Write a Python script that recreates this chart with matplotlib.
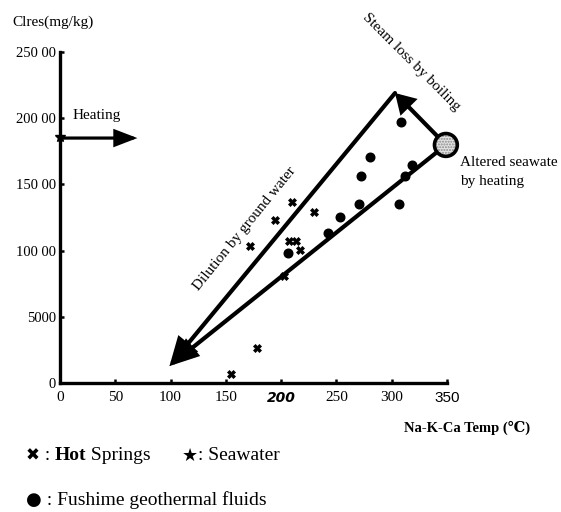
import matplotlib
matplotlib.use('Agg')
import matplotlib.pyplot as plt

# ---------------- data ----------------
fushime_temp = [308.7, 280.7, 318.6, 272.6, 312.3, 306.9, 270.8, 253.6, 242.8, 205.8]
fushime_cl = [19710, 17070, 16470, 15630, 15630, 13520, 13520, 12540, 11330, 9820]

hot_temp = [209.4, 230.1, 194.0, 171.5, 206.7, 213.0, 217.5, 203.0, 155.0, 178.0]
hot_cl = [13670, 12920, 12310, 10350, 10730, 10730, 10050, 8080, 680, 2640]

seawater_temp = [0]
seawater_cl = [18600]

altered_temp = [349]
altered_cl = [17980]

boiling_tip = (303, 21900)
dilution_tip = (99, 1280)
heating_end = (70, 18500)

xticks = [0, 50, 100, 150, 200, 250, 300, 350]
xtick_labels = ['0', '50', '100', '150', '200', '250', '300', '350']
yticks = [0, 5000, 10000, 15000, 20000, 25000]
ytick_labels = ['0', '5000', '100 00', '150 00', '200 00', '250 00']

W, H = 561, 512
SERIF = ['Liberation Serif', 'DejaVu Serif']
plt.rcParams['font.family'] = SERIF


def px(x, y):
    return x / W, 1 - y / H


fig = plt.figure(figsize=(W / 100, H / 100), dpi=100)
ax = fig.add_axes([60 / W, (H - 383) / H, 387 / W, 331 / H])
ax.set_xlim(0, 350)
ax.set_ylim(0, 25000)
for s in ['top', 'right']:
    ax.spines[s].set_visible(False)
for s in ['left', 'bottom']:
    ax.spines[s].set_linewidth(2.4)

ax.set_xticks(xticks)
ax.set_xticklabels(xtick_labels, fontsize=11)
ax.set_yticks(yticks)
ax.set_yticklabels(ytick_labels, fontsize=10.5)
ax.tick_params(axis='both', direction='in', length=3, width=1.8)
ax.tick_params(axis='x', pad=6)
ax.tick_params(axis='y', pad=3)
for lab in ax.get_xticklabels():
    if lab.get_text() == '200':
        lab.set_family(['DejaVu Sans'])
        lab.set_fontweight('bold')
        lab.set_fontstyle('italic')
        lab.set_fontsize(10)
    if lab.get_text() == '350':
        lab.set_family(['Liberation Sans'])
        lab.set_fontsize(11)

# ---------------- arrows ----------------
def arrow(start, end, lw, ms, hl, hw, shrinkA=0, z=2):
    style = '-|>,head_length=%g,head_width=%g' % (hl, hw)
    ax.annotate('', xy=end, xytext=start,
                arrowprops=dict(arrowstyle=style, lw=lw, color='black',
                                shrinkA=shrinkA, shrinkB=0, mutation_scale=ms,
                                joinstyle='miter'),
                annotation_clip=False, zorder=z)

alt = (altered_temp[0], altered_cl[0])
# steam loss by boiling
arrow(alt, boiling_tip, 3.0, 20, 0.5, 0.3, shrinkA=8)
# dilution lines
arrow(boiling_tip, dilution_tip, 3.0, 20, 0.8, 0.35)
arrow(alt, dilution_tip, 3.0, 20, 0.8, 0.3, shrinkA=8)
# heating
arrow((seawater_temp[0], heating_end[1]), heating_end, 2.3, 20, 0.65, 0.25)

# ---------------- markers ----------------
ax.plot(fushime_temp, fushime_cl, 'o', color='black', ms=6.2, zorder=4, clip_on=False)
ax.plot(hot_temp, hot_cl, 'X', color='black', ms=5.5, mew=0.5, zorder=4, clip_on=False)
ax.plot(seawater_temp, seawater_cl, '*', color='black', ms=7, zorder=4, clip_on=False)
ax.scatter(altered_temp, altered_cl, s=270, facecolor='#e4e4e4', edgecolor='#888888',
           linewidth=0, hatch='......', zorder=5, clip_on=False)
ax.scatter(altered_temp, altered_cl, s=270, facecolor='none', edgecolor='black',
           linewidth=2.6, zorder=6, clip_on=False)

# ---------------- texts ----------------
fig.text(*px(12, 22), 'Clres(mg/kg)', fontsize=11, ha='left', va='center')
fig.text(*px(73, 116), 'Heating', fontsize=11, ha='left', va='center')
fig.text(*px(411, 62), 'Steam loss by boiling', fontsize=11, rotation=-45,
         ha='center', va='center', rotation_mode='anchor')
fig.text(*px(245, 229), 'Dilution by ground water', fontsize=11, rotation=51,
         ha='center', va='center', rotation_mode='anchor')
fig.text(*px(460, 162), 'Altered seawate', fontsize=11, ha='left', va='center')
fig.text(*px(460, 181), 'by heating', fontsize=11, ha='left', va='center')
fig.text(*px(467, 428), 'Na-K-Ca Temp (\u2103)', fontsize=10.5, fontweight='bold',
         ha='center', va='center')

# ---------------- legend (manual) ----------------
renderer = fig.canvas.get_renderer()


def seq(x0, y, pieces):
    x = x0
    for txt, kw in pieces:
        t = fig.text(*px(x, y), txt, ha='left', va='center', **kw)
        bb = t.get_window_extent(renderer=renderer)
        x += bb.width
    return x

LS = 14
seq(26, 456, [('\u2716', dict(fontsize=12, family=['DejaVu Sans'])),
              (' : ', dict(fontsize=LS)),
              ('Hot', dict(fontsize=LS, fontweight='bold')),
              (' Springs', dict(fontsize=LS))])
seq(182, 456, [('\u2605', dict(fontsize=13, family=['DejaVu Sans'])),
               (': Seawater', dict(fontsize=LS))])
seq(26, 500, [('\u25cf', dict(fontsize=13, family=['DejaVu Sans'])),
              (' : Fushime geothermal fluids', dict(fontsize=LS))])

fig.savefig('out.png', dpi=100)
